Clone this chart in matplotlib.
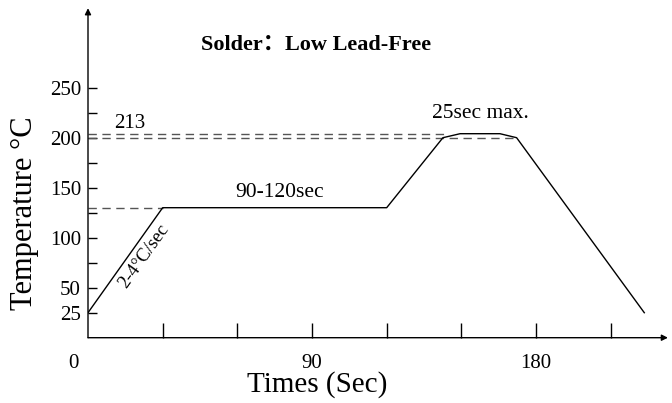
import numpy as np
import matplotlib
matplotlib.use("Agg")
import matplotlib.pyplot as plt

# ==========================================
# data
# ==========================================
time_s = [0, 30, 120, 142.6, 149.5, 165.5, 172.2, 223.5]
temp_c = [25, 130, 130, 200, 204, 204, 200, 25]

preheat_temp = 130
preheat_end = 30
liquidus_temp = 200
liquidus_end = 172.2
peak_temp = 204
peak_line_end = 144

ytick_major = [25, 50, 100, 150, 200, 250]
ytick_minor = [75, 125, 175, 225]
xtick_major = [90, 180]
xtick_minor = [30, 60, 120, 150, 210]

SERIF = ["Liberation Serif", "Noto Sans CJK SC", "DejaVu Serif"]
plt.rcParams["font.family"] = SERIF

# ==========================================
# figure / axes
# ==========================================
W, H = 672, 403
fig = plt.figure(figsize=(W / 100, H / 100), dpi=100)
px_per_s = 74.67 / 30
x0, y0 = 88, 337.7
xmax, ymax = 234, 330
ax = fig.add_axes([x0 / W, (H - y0) / H, xmax * px_per_s / W, ymax / H])
ax.set_xlim(0, xmax)
ax.set_ylim(0, ymax)
for s in ax.spines.values():
    s.set_visible(False)

# axes with arrows
arrow = dict(arrowstyle="-|>", lw=1.0, color="black", mutation_scale=9,
             shrinkA=0, shrinkB=0)
ax.annotate("", xy=(0, ymax - 0.5), xytext=(0, 0), arrowprops=arrow,
            annotation_clip=False)
ax.annotate("", xy=(xmax - 1, 0), xytext=(0, 0), arrowprops=arrow,
            annotation_clip=False)

# ticks
ax.set_yticks(ytick_major)
ax.set_yticklabels([str(v) for v in ytick_major])
ax.set_yticks(ytick_minor, minor=True)
ax.set_xticks(xtick_major)
ax.set_xticklabels([str(v) for v in xtick_major])
ax.set_xticks(xtick_minor, minor=True)
ax.tick_params(axis="y", which="both", direction="in", length=6.5, width=1.0,
               labelsize=15, pad=5)
ax.tick_params(axis="x", which="both", direction="in", length=11, width=1.0,
               labelsize=15, pad=12)
# "0" sits left of the origin, on the tick-label row
ax.text(-6, -25.5, "0", fontsize=15, ha="center", va="center")

# reference lines
dash = dict(color="#555555", lw=1.0, linestyle=(0, (6, 4)))
ax.plot([0, preheat_end], [preheat_temp, preheat_temp], **dash)
ax.plot([0, liquidus_end], [liquidus_temp, liquidus_temp], **dash)
ax.plot([0, peak_line_end], [peak_temp, peak_temp], **dash)

# profile
ax.plot(time_s, temp_c, color="black", lw=1.0)

# annotations
ax.text(10.5, 210, "213", fontsize=15, ha="left", va="baseline")
ax.text(77, 141, "90-120sec", fontsize=15.5, ha="center", va="baseline")
ax.text(157.7, 219.7, "25sec max.", fontsize=15.5, ha="center",
        va="baseline")
p1 = ax.transData.transform((time_s[0], temp_c[0]))
p2 = ax.transData.transform((time_s[1], temp_c[1]))
ang = np.degrees(np.arctan2(p2[1] - p1[1], p2[0] - p1[0]))
ax.text(22.3, 81.5, "2-4°C/sec", fontsize=13.5, rotation=ang,
        rotation_mode="anchor", ha="center", va="center")
ax.text(91.8, 292.7, "Solder：Low Lead-Free", fontsize=16, fontweight="bold",
        ha="center", va="center")

fig.text(316.7 / W, 1 - 385 / H, "Times (Sec)", fontsize=21,
         ha="center", va="center")
fig.text(25 / W, 1 - 213 / H, "Temperature °C", fontsize=22,
         rotation=90, ha="center", va="center")

fig.savefig("out.png", dpi=100)
